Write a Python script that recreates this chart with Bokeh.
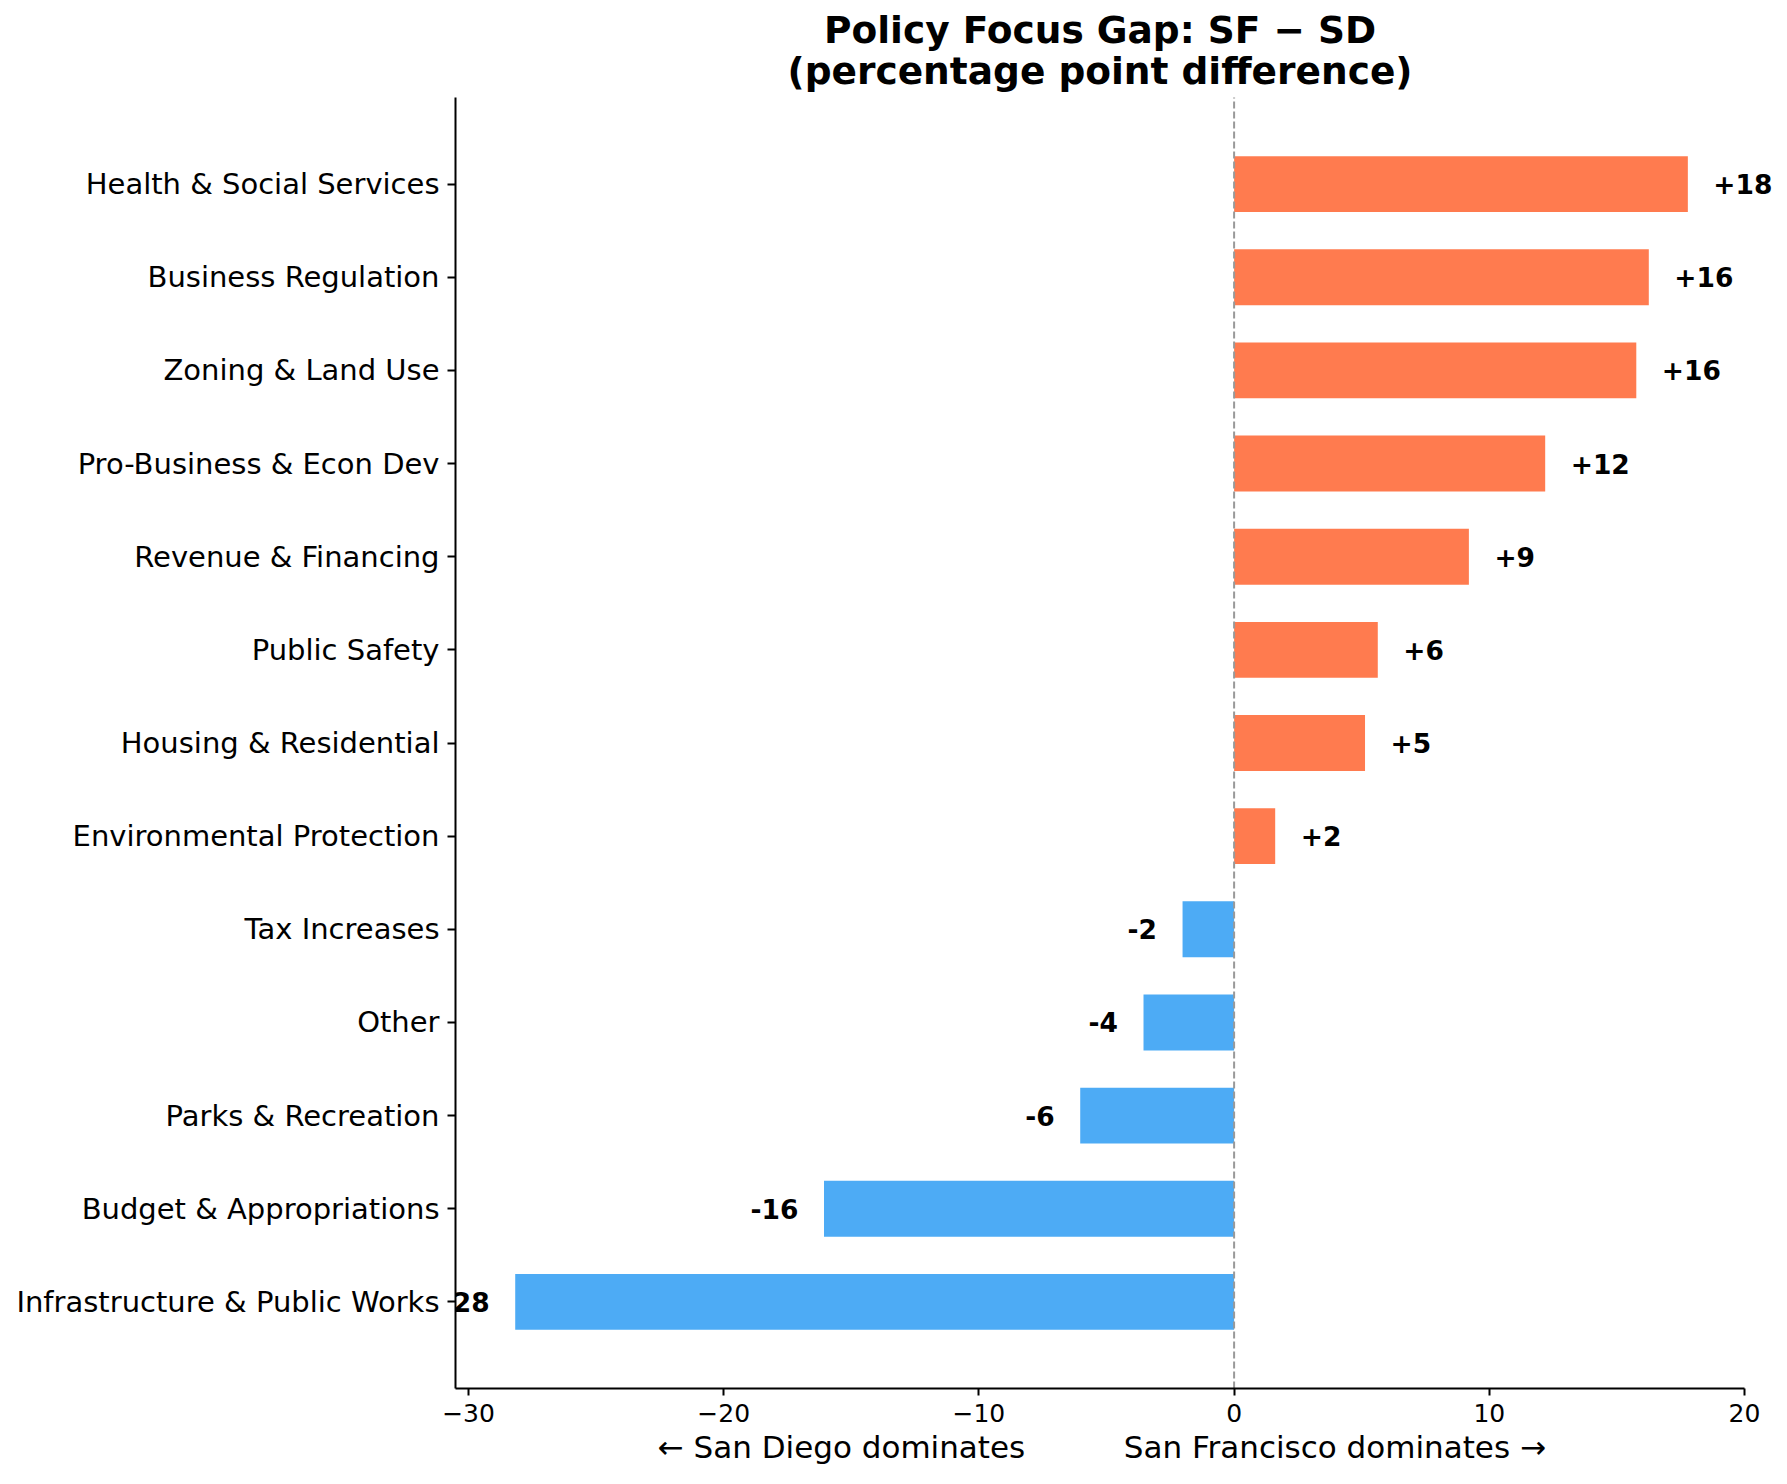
from bokeh.plotting import figure
from bokeh.models import Range1d, FixedTicker, Label
from bokeh.embed import file_html
from bokeh.resources import INLINE

# ---- data ----
categories = [
    "Infrastructure & Public Works",
    "Budget & Appropriations",
    "Parks & Recreation",
    "Other",
    "Tax Increases",
    "Environmental Protection",
    "Housing & Residential",
    "Public Safety",
    "Revenue & Financing",
    "Pro-Business & Econ Dev",
    "Zoning & Land Use",
    "Business Regulation",
    "Health & Social Services",
]
gap_pp = [-28.17, -16.07, -6.03, -3.55, -2.02, 1.61, 5.13, 5.63, 9.2, 12.19, 15.76, 16.25, 17.78]
x_ticks = [-30, -20, -10, 0, 10, 20]
x_tick_labels = ["\u221230", "\u221220", "\u221210", "0", "10", "20"]

title_line1 = "Policy Focus Gap: SF \u2212 SD"
title_line2 = "(percentage point difference)"
xlabel_left = "\u2190 San Diego dominates"
xlabel_right = "San Francisco dominates \u2192"

SF_COLOR = "#FF7B4F"
SD_COLOR = "#4DABF5"
FONT = "DejaVu Sans"

# axis limits (as in the reference) and layout geometry
X0, X1 = -30.51, 20.0
Y0, Y1 = -0.93, 12.93
W, H = 1787, 1484
LEFT, TOP, AX_W, AX_H = 455, 97, 1289, 1291
pxu_x = AX_W / (X1 - X0)
pxu_y = AX_H / (Y1 - Y0)
# frame is extended to the right and top so labels/title are not clipped;
# the axes themselves are bounded to the real limits
x_end = X1 + (W - LEFT - AX_W) / pxu_x
y_end = Y1 + TOP / pxu_y

ys = list(range(len(categories)))
colors = [SF_COLOR if v > 0 else SD_COLOR for v in gap_pp]

p = figure(
    width=W, height=H,
    x_range=Range1d(X0, x_end), y_range=Range1d(Y0, y_end),
    output_backend="svg", toolbar_location=None,
    min_border_left=LEFT, min_border_right=0, min_border_top=0,
    min_border_bottom=H - TOP - AX_H,
)
p.outline_line_color = None
p.background_fill_color = "white"
p.border_fill_color = "white"
p.xgrid.grid_line_color = None
p.ygrid.grid_line_color = None

p.hbar(y=ys, left=0, right=gap_pp, height=0.6, fill_color=colors, line_color=None)

# dashed zero line spanning the axes height
p.segment(x0=[0], y0=[Y0], x1=[0], y1=[Y1], line_color="#999999",
          line_dash="7 3", line_width=2)

# value labels
for y, v in zip(ys, gap_pp):
    txt = f"{v:+.0f}"
    if v > 0:
        lab = Label(x=v + 1, y=y, text=txt, text_align="left")
    else:
        lab = Label(x=v - 1, y=y, text=txt, text_align="right")
    lab.text_baseline = "middle"
    lab.text_font = FONT
    lab.text_font_size = "26.5px"
    lab.text_font_style = "bold"
    lab.text_color = "black"
    p.add_layout(lab)

# title (two lines)
xc = (X0 + X1) / 2
for yy, t in [(Y1 + 68 / pxu_y, title_line1), (Y1 + 27 / pxu_y, title_line2)]:
    p.add_layout(Label(x=xc, y=yy, text=t, text_align="center", text_baseline="alphabetic",
                       text_font=FONT, text_font_size="37.5px", text_font_style="bold",
                       text_color="black"))

# axes
for ax in (p.xaxis, p.yaxis):
    ax.axis_line_width = 2
    ax.axis_line_color = "black"
    ax.major_tick_line_width = 2
    ax.major_tick_line_color = "black"
    ax.major_tick_in = 0
    ax.minor_tick_line_color = None
    ax.major_label_text_font = FONT
    ax.major_label_text_color = "black"

p.xaxis.bounds = (X0, X1)
p.xaxis.ticker = FixedTicker(ticks=x_ticks)
p.xaxis.major_label_overrides = {t: l for t, l in zip(x_ticks, x_tick_labels)}
p.xaxis.major_tick_out = 7
p.xaxis.major_label_standoff = 8
p.xaxis.major_label_text_font_size = "25px"
# trailing no-break spaces re-centre the label on the bounded axis (frame is wider)
p.xaxis.axis_label = xlabel_left + "\u00a0" * 10 + xlabel_right + "\u00a0" * 4
p.xaxis.axis_label_text_font = FONT
p.xaxis.axis_label_text_font_size = "31px"
p.xaxis.axis_label_text_font_style = "normal"
p.xaxis.axis_label_text_color = "black"
p.xaxis.axis_label_standoff = 4

p.yaxis.bounds = (Y0, Y1)
p.yaxis.ticker = FixedTicker(ticks=ys)
p.yaxis.major_label_overrides = {y: c for y, c in zip(ys, categories)}
p.yaxis.major_tick_out = 8
p.yaxis.major_label_standoff = 8
p.yaxis.major_label_text_font_size = "29px"

open("out.html", "w").write(file_html(p, INLINE))
